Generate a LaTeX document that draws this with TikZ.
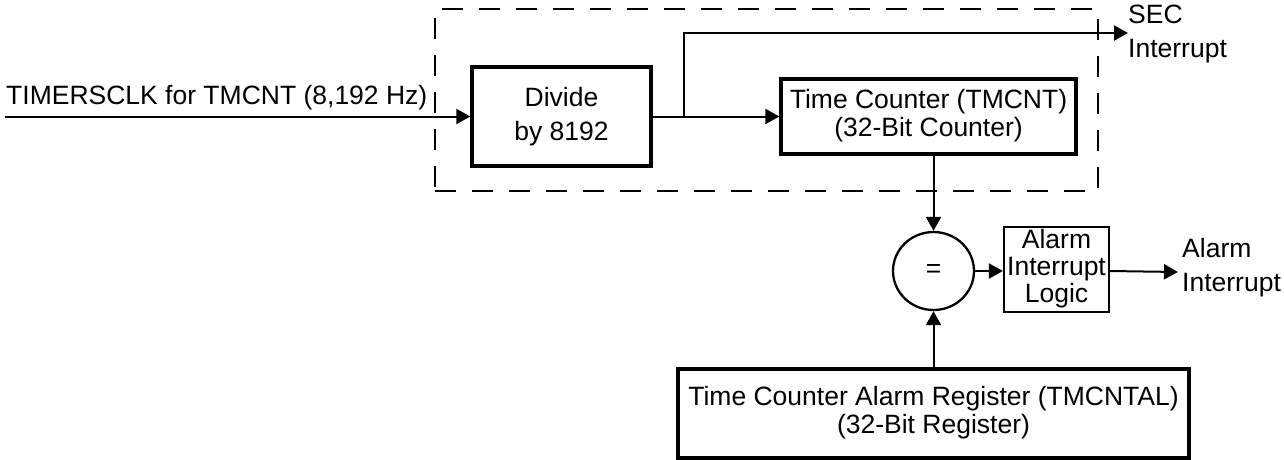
\documentclass[tikz,border=0pt]{standalone}
\usepackage{fontspec}
\setmainfont{Liberation Sans}
\usetikzlibrary{arrows.meta,shapes.geometric}
\newcommand\myfsa{\fontsize{26.5}{34}\selectfont}
\newcommand\myfsb{\fontsize{26.5}{28}\selectfont}
\newcommand\myfsc{\fontsize{26.5}{24}\selectfont}
\newcommand\myfsd{\fontsize{26.5}{25}\selectfont}
\begin{document}
\begin{tikzpicture}[x=1pt,y=-1pt,
  bigbox/.style={draw, line width=3.3pt, inner sep=0pt, align=center},
  smallbox/.style={draw, line width=2.3pt, inner sep=0pt, align=center},
  grpbox/.style={draw, line width=2.3pt, dash pattern=on 21pt off 16pt, inner sep=0pt},
  lbl/.style={inner sep=0pt, align=left, font=\myfsa},
  conn/.style={line width=2pt, -{Triangle[length=14pt,width=15pt]}},
  wire/.style={line width=2pt}]
\useasboundingbox (0,0) rectangle (1284,459);

% group (dashed)
\node[grpbox, minimum width=663pt, minimum height=182pt] (grp) at (766.5,100) {};

% blocks
\node[bigbox, font=\myfsa, minimum width=179pt, minimum height=99pt] (div) at (561.5,116.5)
  {\strut Divide\\\strut by 8192};
\node[bigbox, font=\myfsb, minimum width=295pt, minimum height=75pt] (tmcnt) at (928.5,116.5)
  {\strut Time Counter (TMCNT)\\\strut (32-Bit Counter)};
\node[smallbox, ellipse, font=\myfsa, minimum width=81pt, minimum height=78pt] (eq) at (933.5,271) {=};
\node[smallbox, font=\myfsc, minimum width=105pt, minimum height=85pt] (logic) at (1056.5,269.5)
  {\strut Alarm\\\strut Interrupt\\\strut Logic};
\node[bigbox, font=\myfsd, minimum width=511pt, minimum height=89pt] (reg) at (933.5,413.5)
  {\strut Time Counter Alarm Register (TMCNTAL)\\\strut (32-Bit Register)};

% labels
\node[lbl, anchor=base west] (inlbl) at (6,104) {TIMERSCLK for TMCNT (8,192 Hz)};
\node[lbl, anchor=west] (seclbl) at (1128,33.2) {\strut SEC\\\strut Interrupt};
\node[lbl, anchor=west] (alarmlbl) at (1182,267.2) {\strut Alarm\\\strut Interrupt};

% free ends
\coordinate (in) at (5,116.5);
\coordinate (br) at (684,116.5);
\coordinate (secend) at (1128,33);
\coordinate (alarmend) at (1178,272);

% connectors
\draw[conn] (in) -- (div.west);
\draw[conn] (div.east) -- (tmcnt.west);
\draw[conn] (br) |- (secend);
\draw[conn] (tmcnt.south -| eq.north) -- (eq.north);
\draw[conn] (reg.north) -- (eq.south);
\draw[conn] (eq.east) -- (eq.east -| logic.west);
\draw[conn] (eq.east -| logic.east) -- (alarmend);
\end{tikzpicture}
\end{document}
